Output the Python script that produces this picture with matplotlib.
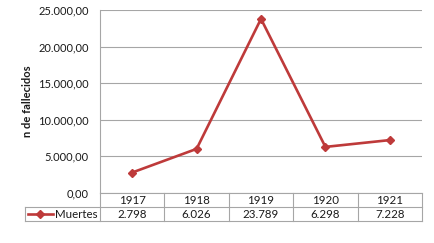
import numpy as np
import matplotlib
matplotlib.use('Agg')
import matplotlib.pyplot as plt
from matplotlib.ticker import FuncFormatter

plt.rcParams['font.family'] = ['Lato', 'DejaVu Sans']

years = ['1917', '1918', '1919', '1920', '1921']
muertes = [2798, 6026, 23789, 6298, 7228]
series_name = 'Muertes'
y_label = 'n de fallecidos'

red = '#BE3A3A'
grid_c = '#A6A6A6'
txt_c = '#1A1A1A'

W, H = 435, 243
fig = plt.figure(figsize=(W / 100, H / 100), dpi=100)

# main plot area (pixel box -> figure fraction)
ax = fig.add_axes([100 / W, 50 / H, 322 / W, 183 / H])
x = np.arange(len(years))
ax.plot(x, muertes, color=red, lw=1.9, marker='D', ms=4.5, mfc=red, mec=red)
ax.set_xlim(-0.5, len(years) - 0.5)
ax.set_ylim(0, 25000)
ax.set_yticks(np.arange(0, 25001, 5000))
ax.yaxis.set_major_formatter(FuncFormatter(
    lambda v, p: f'{v:,.2f}'.replace(',', 'X').replace('.', ',').replace('X', '.')))
ax.set_xticks([])
ax.tick_params(axis='y', length=0, pad=8, labelsize=8, labelcolor=txt_c)
ax.grid(axis='y', color=grid_c, lw=0.8)
ax.set_axisbelow(True)
for s in ['top', 'right', 'bottom']:
    ax.spines[s].set_visible(False)
ax.spines['left'].set_color(grid_c)
ax.spines['left'].set_linewidth(0.8)
ax.set_ylabel(y_label, fontsize=8, fontweight='bold', color=txt_c, labelpad=4)

# data table below the plot
col_w = 322 / len(years)
lab_w = 75 / col_w
tax = fig.add_axes([25 / W, 22 / H, 397 / W, 28 / H])
x0 = -0.5 - lab_w
tax.set_xlim(x0, len(years) - 0.5)
tax.set_ylim(0, 2)
tax.axis('off')
lk = dict(color=grid_c, lw=0.8, clip_on=False)
tax.plot([x0, len(years) - 0.5], [0, 0], **lk)
tax.plot([x0, len(years) - 0.5], [1, 1], **lk)
tax.plot([-0.5, len(years) - 0.5], [2, 2], **lk)
tax.plot([x0, x0], [0, 1], **lk)
for b in np.arange(len(years) + 1) - 0.5:
    tax.plot([b, b], [0, 2], **lk)
for i, (yr, v) in enumerate(zip(years, muertes)):
    tax.text(i, 1.5, yr, ha='center', va='center', fontsize=8.3, color=txt_c)
    tax.text(i, 0.5, f'{v:,}'.replace(',', '.'), ha='center', va='center',
             fontsize=8.3, color=txt_c)
# legend key in the row label cell
kx = x0 + 3 / col_w
tax.plot([kx, kx + 25 / col_w], [0.5, 0.5], color=red, lw=1.9, clip_on=False)
tax.plot([kx + 12.5 / col_w], [0.5], marker='D', ms=4.5, color=red, clip_on=False)
tax.text(kx + 27 / col_w, 0.5, series_name, ha='left', va='center',
         fontsize=8.3, color=txt_c)

fig.savefig('out.png', dpi=100)
